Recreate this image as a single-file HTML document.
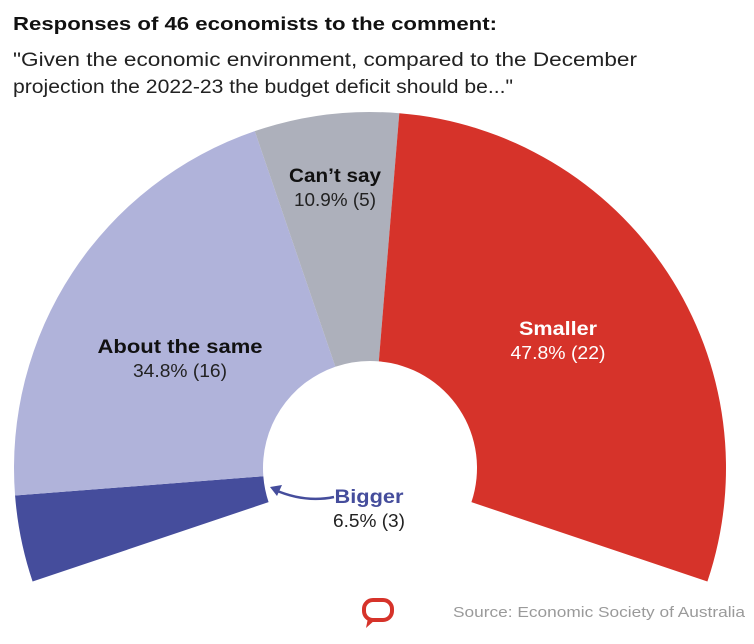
<!DOCTYPE html>
<html><head><meta charset="utf-8"><style>
body{margin:0;background:#fff;width:754px;height:639px;overflow:hidden;font-family:"Liberation Sans",sans-serif}
</style></head><body>
<svg width="754" height="639">
<text x="13" y="30" font-size="18" font-weight="bold" fill="#111" textLength="484" lengthAdjust="spacingAndGlyphs">Responses of 46 economists to the comment:</text>
<text x="13" y="66" font-size="19" fill="#222" textLength="624" lengthAdjust="spacingAndGlyphs">"Given the economic environment, compared to the December</text>
<text x="13" y="93" font-size="19" fill="#222" textLength="500" lengthAdjust="spacingAndGlyphs">projection the 2022-23 the budget deficit should be..."</text>
<g id="slices"></g>
<g id="labels"></g>
<path d="M334,497 Q305,503 275,490" fill="none" stroke="#454d9c" stroke-width="2.5"/>
<path d="M270,487 L282,485 L277,496 Z" fill="#454d9c"/>
<g><rect x="364" y="600" width="28" height="20" rx="9" fill="none" stroke="#d6332a" stroke-width="4"/><path d="M368,618 L366,628 L376,619 Z" fill="#d6332a"/></g>
<text x="745" y="617" font-size="15" fill="#9a9a9a" text-anchor="end" textLength="292" lengthAdjust="spacingAndGlyphs">Source: Economic Society of Australia</text>
</svg>
<script>
const categories=["Bigger","About the same","Can’t say","Smaller"];
const counts=[3,16,5,22];
const percents=["6.5%","34.8%","10.9%","47.8%"];
const colors=["#454d9c","#b0b3da","#adb0bb","#d6332a"];
const cx=370,cy=468,R=356,r=107,startDeg=198.6,spanDeg=217.2;
const NS="http://www.w3.org/2000/svg";
const total=counts.reduce((a,b)=>a+b,0);
const pt=(deg,rad)=>[cx+rad*Math.cos(deg*Math.PI/180),cy-rad*Math.sin(deg*Math.PI/180)];
let a=startDeg;
const g=document.getElementById('slices');
counts.forEach((c,i)=>{
  const a2=a-spanDeg*c/total;
  const [x1,y1]=pt(a,R),[x2,y2]=pt(a2,R),[x3,y3]=pt(a2,r),[x4,y4]=pt(a,r);
  const large=(a-a2)>180?1:0;
  const p=document.createElementNS(NS,'path');
  p.setAttribute('d',`M${x1},${y1} A${R},${R} 0 ${large} 1 ${x2},${y2} L${x3},${y3} A${r},${r} 0 ${large} 0 ${x4},${y4} Z`);
  p.setAttribute('fill',colors[i]);
  
  
  g.appendChild(p);
  a=a2;
});
const L=document.getElementById('labels');
const labelPos=[[369,503,"#454d9c","#222",69,72],[180,353,"#111","#222",165,94],[335,182,"#111","#222",92,82],[558,335,"#fff","#fff",78,95]];
categories.forEach((c,i)=>{
  const [x,y,c1,c2,w1,w2]=labelPos[i];
  const t=document.createElementNS(NS,'text');
  t.setAttribute('x',x);t.setAttribute('y',y);t.setAttribute('text-anchor','middle');
  t.setAttribute('font-size','19');t.setAttribute('font-weight','bold');t.setAttribute('fill',c1);
  t.setAttribute('textLength',w1);t.setAttribute('lengthAdjust','spacingAndGlyphs');
  t.textContent=c;
  
  
  L.appendChild(t);
  const v=document.createElementNS(NS,'text');
  v.setAttribute('x',x);v.setAttribute('y',y+24);v.setAttribute('text-anchor','middle');
  v.setAttribute('font-size','18');v.setAttribute('fill',c2);
  v.setAttribute('textLength',w2);v.setAttribute('lengthAdjust','spacingAndGlyphs');
  v.textContent=percents[i]+' ('+counts[i]+')';
  
  
  L.appendChild(v);
});
</script>
</body></html>
